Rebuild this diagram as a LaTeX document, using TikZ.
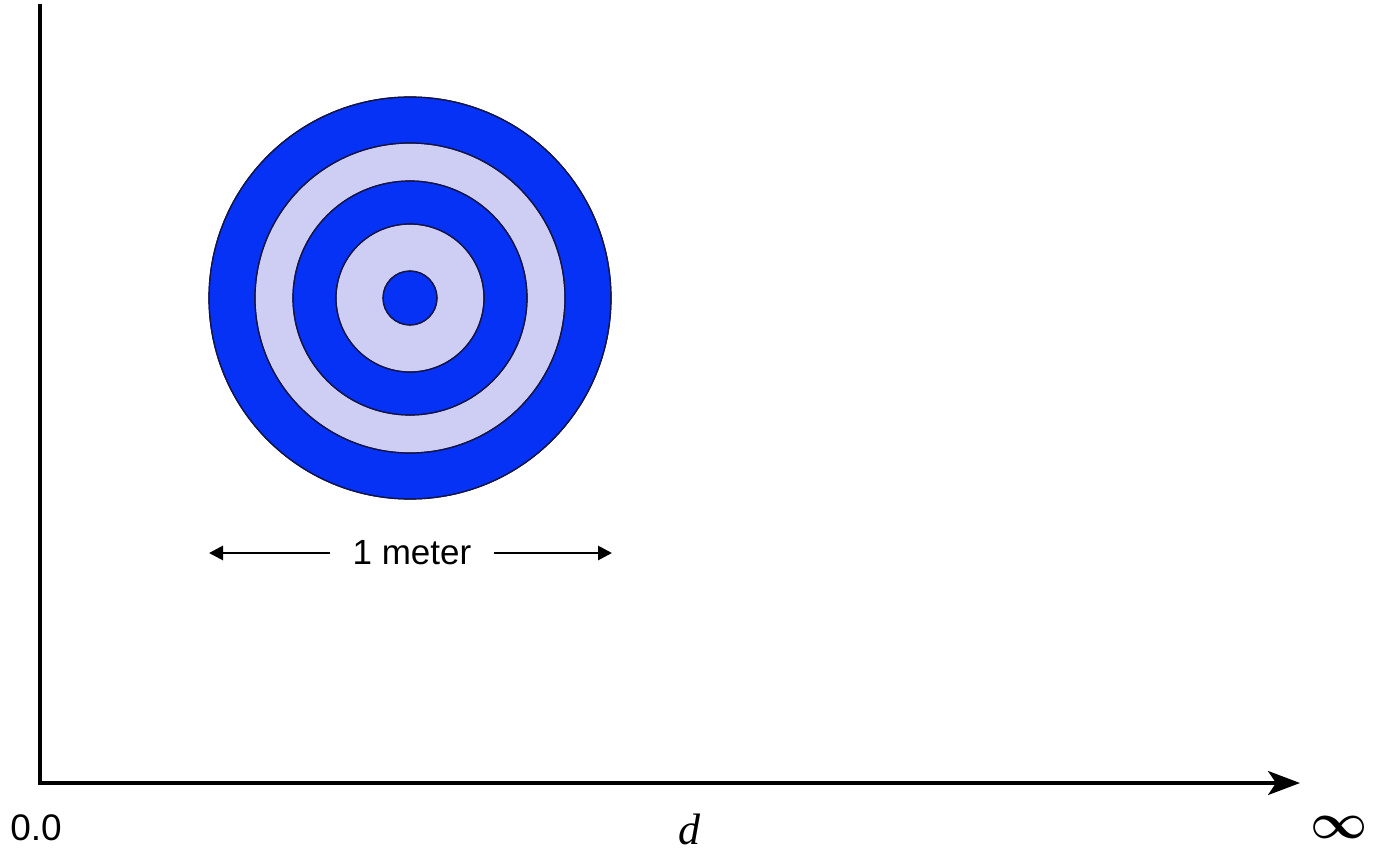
\documentclass[tikz,border=0pt]{standalone}
\usepackage{fontspec}
\setmainfont{Liberation Sans}
\newfontfamily\timesfont{Liberation Serif}
\usepackage{amsmath,bm}
\usetikzlibrary{arrows.meta}
\definecolor{ringblue}{RGB}{5,50,245}
\definecolor{ringlight}{RGB}{206,206,245}
\definecolor{ringedge}{RGB}{20,20,70}
\tikzset{
  ring/.style={draw=ringedge, line width=0.6pt},
  axis/.style={line width=1.6pt, line cap=rect},
  dimarrow/.style={line width=1.4pt, -{Triangle[length=7pt,width=7pt]}},
  lbl/.style={inner sep=0pt, font=\fontsize{17.5}{20}\selectfont}
}
\begin{document}
\begin{tikzpicture}[x=0.5pt,y=-0.5pt]
\useasboundingbox (0,0) rectangle (1374,850);
% axes
\coordinate (top) at (40,6);
\coordinate (origin) at (40,783);
\coordinate (xend) at (1300,783);
\draw[axis] (top) -- (origin);
\draw[line width=1.6pt, -{Stealth[length=16pt,width=12pt,inset=4pt]}] (origin) -- (xend);
% target
\coordinate (c) at (410,298);
\fill[ring, fill=ringblue] (c) circle[radius=201];
\fill[ring, fill=ringlight] (c) circle[radius=155];
\fill[ring, fill=ringblue] (c) circle[radius=117];
\fill[ring, fill=ringlight] (c) circle[radius=74];
\fill[ring, fill=ringblue] (c) circle[radius=27];
\draw[ring] (c) circle[radius=201];
\draw[ring] (c) circle[radius=155];
\draw[ring] (c) circle[radius=117];
\draw[ring] (c) circle[radius=74];
\draw[ring] (c) circle[radius=27];
% dimension
\node[lbl] (meter) at (412,553) {1 meter};
\coordinate (lend) at (209,553);
\coordinate (rend) at (612,553);
\draw[dimarrow] ([xshift=-11pt]meter.west) -- (lend);
\draw[dimarrow] ([xshift=11pt]meter.east) -- (rend);
% labels
\node[lbl, font=\fontsize{18.5}{22}\selectfont] (zero) at (36,828) {0.0};
\node[inner sep=0pt, font=\timesfont\itshape\fontsize{22}{26}\selectfont] (d) at (689,829) {d};
\node[inner sep=0pt] (inf) at (1339,827) {\fontsize{25}{28}\selectfont$\bm{\infty}$};
\end{tikzpicture}
\end{document}
